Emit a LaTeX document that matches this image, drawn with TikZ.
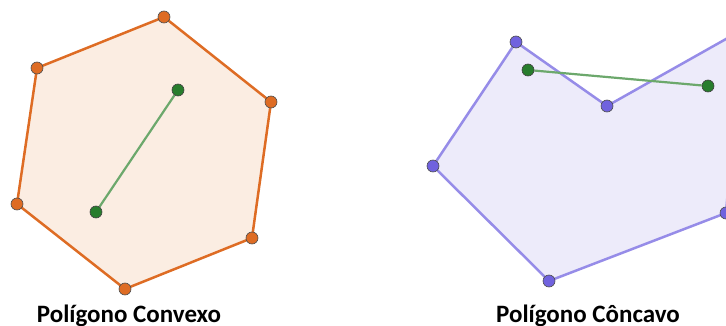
\documentclass[tikz,border=0pt]{standalone}
\usepackage{fontspec}
\newfontfamily\labelfont{Carlito}
\usepackage{xcolor}
\usetikzlibrary{backgrounds}

\definecolor{edgeorange}{RGB}{222,108,36}
\definecolor{fillorange}{RGB}{251,237,226}
\definecolor{edgepurple}{RGB}{150,140,232}
\definecolor{fillpurple}{RGB}{237,235,250}
\definecolor{dotpurple}{RGB}{112,98,222}
\definecolor{segline}{RGB}{108,168,108}
\definecolor{dotgreen}{RGB}{40,125,45}

\begin{document}
\begin{tikzpicture}[
  x=1pt, y=-1pt,
  vtxo/.style={circle, draw=black!70, fill=edgeorange, line width=0.6pt, inner sep=0pt, minimum size=12pt},
  vtxp/.style={circle, draw=black!70, fill=dotpurple, line width=0.6pt, inner sep=0pt, minimum size=12pt},
  ptg/.style={circle, draw=black!75, fill=dotgreen, line width=0.6pt, inner sep=0pt, minimum size=12pt},
  convex/.style={draw=edgeorange, fill=fillorange, line width=2.5pt, line join=round},
  concave/.style={draw=edgepurple, fill=fillpurple, line width=2.5pt, line join=round},
  seg/.style={draw=segline, line width=2.2pt},
  title/.style={anchor=base, inner sep=0pt, font=\labelfont\bfseries\fontsize{25}{30}\selectfont}
]
\useasboundingbox (0,0) rectangle (726,326);
\clip (0,0) rectangle (726,326);

% convex polygon
\node[vtxo] (a1) at (164,17) {};
\node[vtxo] (a2) at (271,102) {};
\node[vtxo] (a3) at (252,238) {};
\node[vtxo] (a4) at (125,289) {};
\node[vtxo] (a5) at (17,204) {};
\node[vtxo] (a6) at (37,68) {};
\node[ptg] (u1) at (178,90) {};
\node[ptg] (u2) at (96,212) {};

% concave polygon
\node[vtxp] (b1) at (516,42) {};
\node[vtxp] (b2) at (607,106) {};
\node[vtxp] (b3) at (742,30) {};
\node[vtxp] (b4) at (726,213) {};
\node[vtxp] (b5) at (549,281) {};
\node[vtxp] (b6) at (433,166) {};
\node[ptg] (v1) at (528,70) {};
\node[ptg] (v2) at (708,86) {};

\begin{pgfonlayer}{background}
  \path[convex] (a1.center) -- (a2.center) -- (a3.center) -- (a4.center)
    -- (a5.center) -- (a6.center) -- cycle;
  \path[concave] (b1.center) -- (b2.center) -- (b3.center) -- (b4.center)
    -- (b5.center) -- (b6.center) -- cycle;
  \draw[seg] (u1) -- (u2);
  \draw[seg] (v1) -- (v2);
\end{pgfonlayer}

\node[title] (lconv) at (129,322) {Polígono Convexo};
\node[title] (lconc) at (588,322) {Polígono Côncavo};
\end{tikzpicture}
\end{document}
